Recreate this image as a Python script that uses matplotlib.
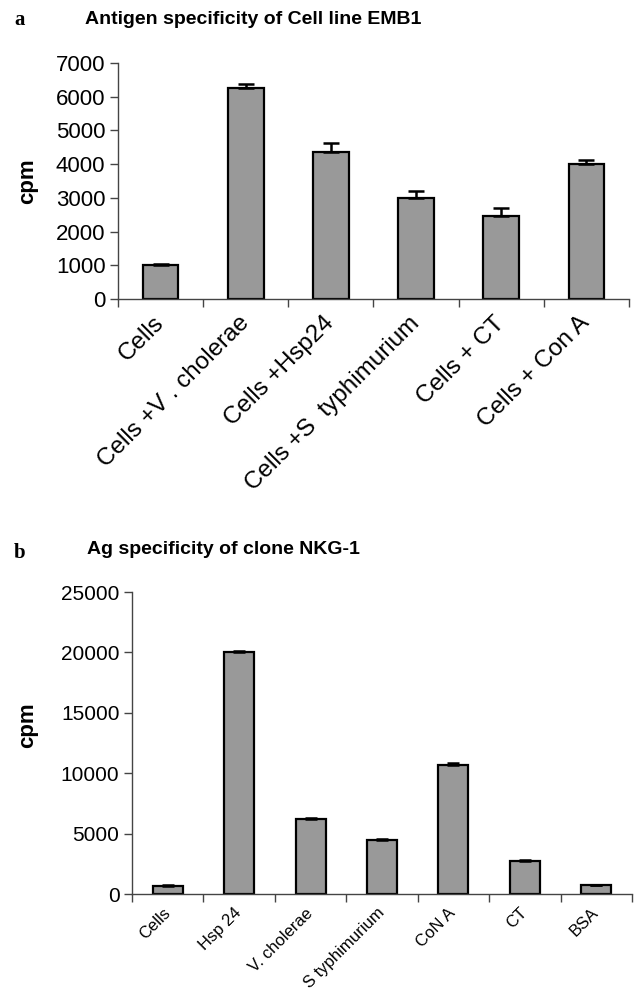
import matplotlib
matplotlib.use("Agg")
import matplotlib.pyplot as plt
import numpy as np

plt.rcParams['font.family'] = ['Liberation Sans', 'DejaVu Sans']

# Panel a data
cats_a = ["Cells", "Cells +V . cholerae", "Cells +Hsp24", "Cells +S  typhimurium", "Cells + CT", "Cells + Con A"]
vals_a = [995, 6260, 4370, 3000, 2470, 4005]
errs_a = [55, 105, 265, 210, 215, 120]
yticks_a = [0, 1000, 2000, 3000, 4000, 5000, 6000, 7000]

# Panel b data
cats_b = ["Cells", "Hsp 24", "V. cholerae", "S typhimurium", "CoN A", "CT", "BSA"]
vals_b = [660, 20030, 6180, 4450, 10650, 2720, 740]
errs_b = [110, 110, 135, 135, 220, 135, 20]
yticks_b = [0, 5000, 10000, 15000, 20000, 25000]

W, H = 638, 994
fig = plt.figure(figsize=(W / 100, H / 100), dpi=100)

def px_axes(left, right, top, bottom):
    return fig.add_axes([left / W, 1 - bottom / H, (right - left) / W, (bottom - top) / H])

def draw(ax, cats, vals, errs, yticks, ytick_fs, xtick_fs, capsize, xpad):
    n = len(cats)
    x = np.arange(n)
    ax.bar(x, vals, width=0.42, color='#999999', edgecolor='black', linewidth=1.6, zorder=2)
    ax.errorbar(x, vals, yerr=[np.zeros(n), errs], fmt='none', ecolor='black',
                elinewidth=1.8, capsize=capsize, capthick=1.8, zorder=3)
    ax.set_xlim(-0.5, n - 0.5)
    ax.set_ylim(0, yticks[-1])
    ax.set_yticks(yticks)
    ax.set_yticklabels([str(v) for v in yticks], fontsize=ytick_fs)
    ax.set_xticks(x)
    ax.set_xticklabels(cats, fontsize=xtick_fs, rotation=45, ha='right', va='center',
                       rotation_mode='anchor')
    ax.tick_params(axis='x', which='major', length=0, pad=xpad)
    ax.set_xticks(np.arange(n + 1) - 0.5, minor=True)
    ax.tick_params(axis='x', which='minor', length=6, width=1, color='#444444', direction='out')
    ax.tick_params(axis='y', length=6, width=1, color='#444444', direction='out', pad=3)
    for s in ['top', 'right']:
        ax.spines[s].set_visible(False)
    for s in ['left', 'bottom']:
        ax.spines[s].set_color('#444444')
        ax.spines[s].set_linewidth(1.0)

ax_a = px_axes(118, 629, 63, 299)
draw(ax_a, cats_a, vals_a, errs_a, yticks_a, 16, 17.5, 6, 15)

ax_b = px_axes(132, 632, 592, 894)
draw(ax_b, cats_b, vals_b, errs_b, yticks_b, 15, 12, 4.5, 12)

# Panel letters and titles
fig.text(14 / W, 1 - 20 / H, "a", fontsize=15, fontweight='bold',
         family=['Liberation Serif'], ha='left', va='center')
fig.text(85 / W, 1 - 20 / H, "Antigen specificity of Cell line EMB1", fontsize=14,
         fontweight='bold', ha='left', va='center')
fig.text(14 / W, 1 - 553 / H, "b", fontsize=15, fontweight='bold',
         family=['Liberation Serif'], ha='left', va='center')
fig.text(87 / W, 1 - 550 / H, "Ag specificity of clone NKG-1", fontsize=14,
         fontweight='bold', ha='left', va='center')

# y labels
fig.text(28 / W, 1 - 181 / H, "cpm", fontsize=16, fontweight='bold', rotation=90,
         ha='center', va='center')
fig.text(28 / W, 1 - 725 / H, "cpm", fontsize=16, fontweight='bold', rotation=90,
         ha='center', va='center')

fig.savefig("out.png", dpi=100, facecolor='white')
